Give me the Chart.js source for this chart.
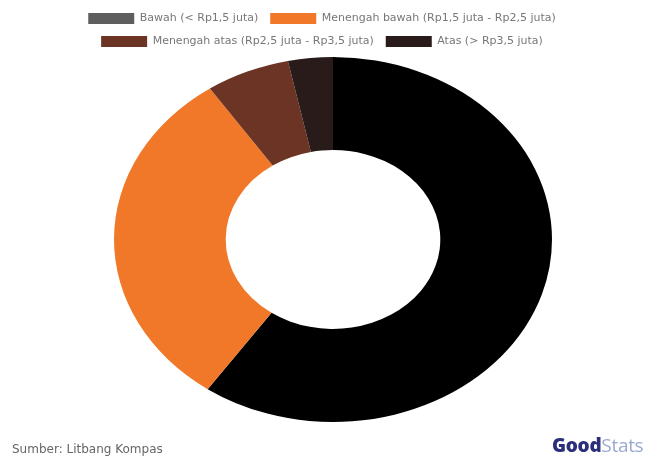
<!DOCTYPE html>
<html>
<head>
<meta charset="utf-8">
<script src="https://cdn.jsdelivr.net/npm/chart.js@4.4.0/dist/chart.umd.min.js"></script>
<style>
  html, body { margin: 0; padding: 0; background: #fff; }
  #wrap { position: relative; width: 651px; height: 457px; }
  #source {
    position: absolute; left: 12px; top: 442px;
    font: 12px "DejaVu Sans", sans-serif; color: #666;
  }
  #logo {
    position: absolute; left: 552px; top: 432px;
    font: 19px "Open Sans", sans-serif; letter-spacing: -0.3px;
  }
  #logo b { color: #2b2f7a; font-weight: 800; }
  #logo span { color: #9aaad0; font-weight: 400; }
</style>
</head>
<body>
<div id="wrap">
  <canvas id="incomeChart" width="651" height="457"></canvas>
  <div id="source">Sumber: Litbang Kompas</div>
  <div id="logo"><b>Good</b><span>Stats</span></div>
</div>
<script>
const incomeLabels = [
  'Bawah (< Rp1,5 juta)',
  'Menengah bawah (Rp1,5 juta - Rp2,5 juta)',
  'Menengah atas (Rp2,5 juta - Rp3,5 juta)',
  'Atas (> Rp3,5 juta)'
];
const incomeData = [59.7, 30.8, 6.2, 3.3];
const sliceColors = ['#000000', '#f07828', '#6b3424', '#2a1b1b'];
const legendColors = ['#5e5e5e', '#f07828', '#6b3424', '#2a1b1b'];

// doughnut in the picture is wider than tall, stretch it around its centre
const stretchPlugin = {
  id: 'stretch',
  beforeDatasetsDraw(chart) {
    const arc = chart.getDatasetMeta(0).data[0];
    if (!arc) return;
    const ctx = chart.ctx;
    ctx.save();
    ctx.translate(arc.x + 11, arc.y);
    ctx.scale(1.2, 1);
    ctx.translate(-arc.x, -arc.y);
  },
  afterDatasetsDraw(chart) {
    if (chart.getDatasetMeta(0).data[0]) chart.ctx.restore();
  }
};

(function () {
  const el = document.getElementById('incomeChart');
  if (!el) return;
  new Chart(el.getContext('2d'), {
    type: 'doughnut',
    data: {
      labels: incomeLabels,
      datasets: [{
        data: incomeData,
        backgroundColor: sliceColors,
        borderWidth: 0,
        clip: false
      }]
    },
    options: {
      responsive: false,
      animation: false,
      cutout: '49%',
      layout: { padding: { top: 1, bottom: 35, left: 0, right: 7 } },
      plugins: {
        tooltip: { enabled: false },
        legend: {
          position: 'top',
          labels: {
            boxWidth: 46,
            boxHeight: 11,
            padding: 12,
            color: '#777',
            font: { family: 'DejaVu Sans', size: 11 },
            generateLabels: function (chart) {
              return chart.data.labels.map((label, i) => ({
                text: label,
                fillStyle: legendColors[i],
                strokeStyle: legendColors[i],
                lineWidth: 0,
                fontColor: '#777',
                index: i
              }));
            }
          }
        }
      }
    },
    plugins: [stretchPlugin]
  });
})();
</script>
</body>
</html>
